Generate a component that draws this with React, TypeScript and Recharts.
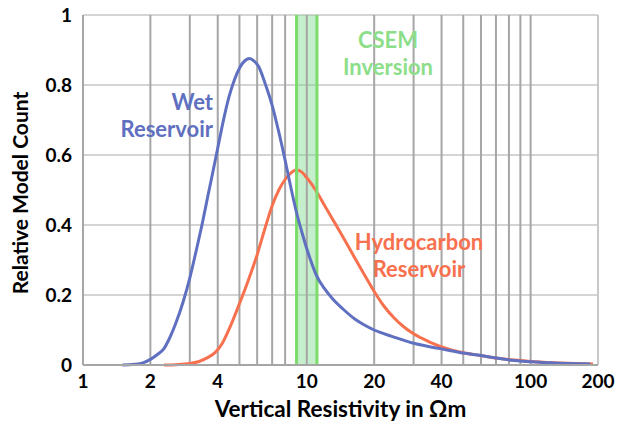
import React from "react";
import {
  ComposedChart, Line, Area, XAxis, YAxis, CartesianGrid, ReferenceLine, ReferenceDot, Label,
} from "recharts";

// [resistivity in ohm-m, relative model count]
const wetReservoir: [number, number][] = [
  [1.5, 0], [1.7, 0.002], [1.85, 0.006], [2.0, 0.016], [2.15, 0.03], [2.3, 0.047], [2.45, 0.08],
  [2.6, 0.12], [2.8, 0.18], [3.0, 0.248], [3.2, 0.325], [3.4, 0.4], [3.6, 0.478], [3.8, 0.55],
  [4.0, 0.62], [4.25, 0.702], [4.5, 0.768], [4.75, 0.815], [5.0, 0.848], [5.3, 0.87], [5.55, 0.876],
  [5.8, 0.869], [6.1, 0.852], [6.5, 0.806], [7.0, 0.742], [7.5, 0.665], [8.0, 0.585], [8.5, 0.505],
  [9.0, 0.435], [9.5, 0.38], [10, 0.332], [10.5, 0.292], [11, 0.258], [12, 0.218], [13, 0.19],
  [14.5, 0.16], [16.5, 0.13], [18, 0.115], [20, 0.1], [24, 0.082], [30, 0.062], [35, 0.053],
  [40, 0.046], [50, 0.034], [60, 0.027], [70, 0.02], [85, 0.013], [100, 0.009], [135, 0.005], [185, 0.003],
];

const hydrocarbonReservoir: [number, number][] = [
  [2.3, 0], [2.6, 0.001], [3.0, 0.004], [3.3, 0.01], [3.6, 0.021], [3.9, 0.036], [4.2, 0.063],
  [4.5, 0.103], [5.0, 0.175], [5.5, 0.245], [6.0, 0.315], [6.5, 0.39], [7.0, 0.455], [7.5, 0.5],
  [8.0, 0.53], [8.5, 0.549], [9.0, 0.557], [9.5, 0.551], [10, 0.535], [11, 0.498], [12, 0.456],
  [13, 0.418], [14, 0.383], [15.6, 0.33], [18, 0.26], [20, 0.21], [22, 0.17], [24.5, 0.135],
  [27, 0.11], [30, 0.089], [35, 0.067], [40, 0.052], [50, 0.035], [60, 0.027], [70, 0.02],
  [85, 0.014], [100, 0.01], [135, 0.006], [190, 0.003],
];

// resistivity window resolved by the CSEM inversion
const csemRange: [number, number] = [9, 11.1];

const xTicks = [1, 2, 4, 10, 20, 40, 100, 200];
const yTicks = [0, 0.2, 0.4, 0.6, 0.8, 1];
const xGridLines = [1, 2, 3, 4, 5, 6, 7, 8, 9, 10, 20, 30, 40, 50, 60, 70, 80, 90, 100];

const BLUE = "#6070c0";
const ORANGE = "#f8714f";
const GREEN = "#8dde89";
const FONT = "Lato, 'Open Sans', sans-serif";

const toRows = (pts: [number, number][]) => pts.map(([r, v]) => ({ r, v }));

// band spans the full y range; drawn as a series so it can sit between the two curves
const bandRows = csemRange.map(r => ({ r, v: 1 }));
const edgeRows = (r: number) => [{ r, v: 0 }, { r, v: 1 }];

// two-line annotation anchored at a data point
const note = (lines: string[], color: string, anchor: "start" | "middle" | "end") => (props: any) => {
  const vb = props.viewBox || {};
  const x = vb.x + (vb.width || 0) / 2;
  const y = vb.y + (vb.height || 0) / 2;
  return (
    <text x={x} y={y} textAnchor={anchor} fill={color} fontFamily={FONT} fontWeight={700} fontSize={22}>
      {lines.map((t, i) => (
        <tspan key={t} x={x} dy={i === 0 ? 0 : 27}>{t}</tspan>
      ))}
    </text>
  );
};

const tickStyle = { fontFamily: FONT, fontWeight: 700, fontSize: 19, fill: "#000" };

export default function App() {
  return (
    <div style={{ position: "absolute", left: 0, top: 0, width: 622, height: 422, background: "#fff" }}>
      <ComposedChart width={622} height={422} margin={{ top: 15, right: 24, bottom: 0, left: 0 }}>
        <CartesianGrid vertical={false} stroke="#d4d4d4" strokeWidth={2} />
        {xGridLines.map(v => (
          <ReferenceLine key={v} x={v} stroke="#a6a6a6" strokeWidth={2} />
        ))}
        <ReferenceLine x={200} stroke="#c8c8c8" strokeWidth={2} />
        <XAxis
          dataKey="r" type="number" scale="log" domain={[1, 200]} ticks={xTicks} interval={0}
          allowDataOverflow height={57} tickLine={false} tickSize={0} tickMargin={10}
          axisLine={{ stroke: "#a6a6a6", strokeWidth: 2 }} tick={tickStyle}
        >
          <Label
            content={(p: any) => {
              const vb = p.viewBox;
              return (
                <text x={vb.x + vb.width / 2} y={vb.y + 52} textAnchor="middle"
                  fontFamily={FONT} fontWeight={700} fontSize={22.5} fill="#000">
                  Vertical Resistivity in Ωm
                </text>
              );
            }}
          />
        </XAxis>
        <YAxis
          type="number" domain={[0, 1]} ticks={yTicks} width={83} axisLine={false}
          tickLine={false} tickSize={0} tickMargin={11} tick={tickStyle}
        >
          <Label
            content={(p: any) => {
              const vb = p.viewBox;
              const cy = vb.y + vb.height / 2 + 3;
              return (
                <text x={28} y={cy} transform={`rotate(-90 28 ${cy})`} textAnchor="middle"
                  fontFamily={FONT} fontWeight={700} fontSize={21} fill="#000">
                  Relative Model Count
                </text>
              );
            }}
          />
        </YAxis>
        <Line data={toRows(hydrocarbonReservoir)} dataKey="v" type="monotone" stroke={ORANGE}
          strokeWidth={3} dot={false} isAnimationActive={false} />
        <Area data={bandRows} dataKey="v" type="linear" baseValue={0} fill="#7ed98f" fillOpacity={0.45}
          stroke="none" dot={false} activeDot={false} isAnimationActive={false} />
        {csemRange.map(v => (
          <Line key={`edge-${v}`} data={edgeRows(v)} dataKey="v" type="linear" stroke="#7ddc6c"
            strokeWidth={3} dot={false} activeDot={false} isAnimationActive={false} />
        ))}
        <Line data={toRows(wetReservoir)} dataKey="v" type="monotone" stroke={BLUE}
          strokeWidth={3} dot={false} isAnimationActive={false} />
        <ReferenceDot x={3.81} y={0.729} r={0} fill="none" stroke="none"
          label={note(["Wet", "Reservoir"], BLUE, "end")} />
        <ReferenceDot x={23.06} y={0.906} r={0} fill="none" stroke="none"
          label={note(["CSEM", "Inversion"], GREEN, "middle")} />
        <ReferenceDot x={31.7} y={0.329} r={0} fill="none" stroke="none"
          label={note(["Hydrocarbon", "Reservoir"], ORANGE, "middle")} />
      </ComposedChart>
    </div>
  );
}
